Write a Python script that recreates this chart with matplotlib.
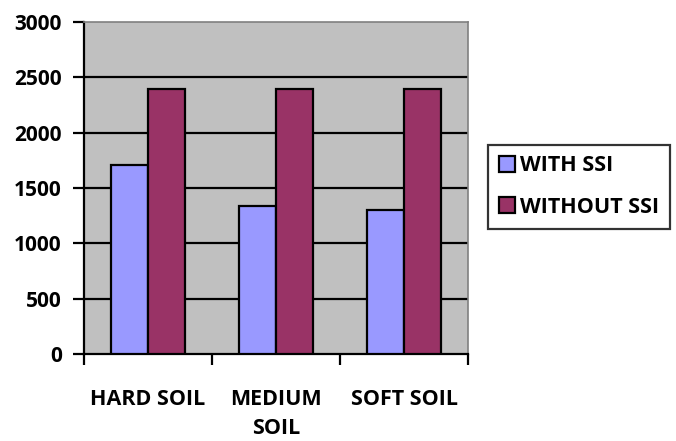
import numpy as np
import matplotlib.pyplot as plt

# data
categories = ["HARD SOIL", "MEDIUM\nSOIL", "SOFT SOIL"]
with_ssi = [1705, 1340, 1300]
without_ssi = [2395, 2395, 2395]
series_names = ["WITH SSI", "WITHOUT SSI"]
yticks = [0, 500, 1000, 1500, 2000, 2500, 3000]

plt.rcParams['font.family'] = ['Open Sans', 'DejaVu Sans']
plt.rcParams['font.weight'] = 'bold'

fig = plt.figure(figsize=(6.76, 4.41), dpi=100)
ax = fig.add_axes([0.1243, 0.1973, 0.568, 0.7528])
ax.set_facecolor('#C0C0C0')

x = np.arange(len(categories))
w = 0.29
ax.bar(x - w / 2, with_ssi, w, color='#9999FF', edgecolor='black', linewidth=1.6,
       label=series_names[0], zorder=3)
ax.bar(x + w / 2, without_ssi, w, color='#993366', edgecolor='black', linewidth=1.6,
       label=series_names[1], zorder=3)

ax.set_xlim(-0.5, len(categories) - 0.5)
ax.set_ylim(0, 3000)
ax.set_yticks(yticks)
ax.set_yticklabels([str(v) for v in yticks], fontsize=15, fontweight='bold')
for v in yticks[1:-1]:
    ax.axhline(v, color='black', linewidth=1.6, zorder=1)

# category labels between boundary ticks
ax.set_xticks(np.arange(-0.5, len(categories), 1.0))
ax.set_xticklabels([])
ax.set_xticks(x, minor=True)
ax.set_xticklabels(categories, minor=True, fontsize=15.5, fontweight='bold',
                   linespacing=1.5, va='top')
ax.tick_params(axis='x', which='minor', length=0, pad=25)
ax.tick_params(axis='x', which='major', length=8, width=1.6, direction='out')
ax.tick_params(axis='y', length=8, width=1.6, direction='out', pad=8)

ax.spines['left'].set_linewidth(1.6)
ax.spines['bottom'].set_linewidth(1.6)
ax.spines['top'].set_color('#808080')
ax.spines['right'].set_color('#808080')
ax.spines['top'].set_linewidth(1.2)
ax.spines['right'].set_linewidth(1.2)

leg = fig.legend(loc='upper left', bbox_to_anchor=(0.722, 0.672), fontsize=15.5,
                 frameon=True, fancybox=False, edgecolor='black', handlelength=0.75,
                 handleheight=0.75, handletextpad=0.25, labelspacing=0.95,
                 borderpad=0.5, borderaxespad=0)
leg.get_frame().set_linewidth(1.6)
for t in leg.get_texts():
    t.set_fontweight('bold')

fig.savefig('out.png', dpi=100)
